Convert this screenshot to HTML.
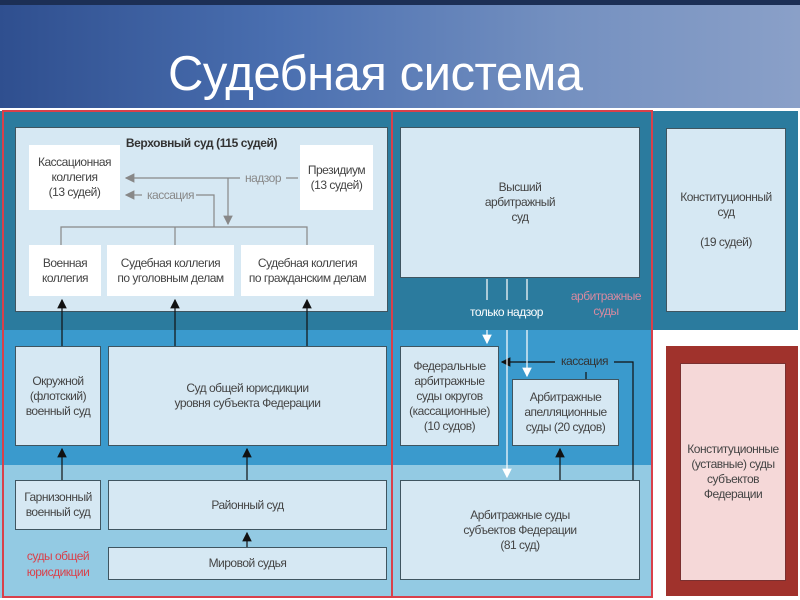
<!DOCTYPE html>
<html><head><meta charset="utf-8"><style>
*{margin:0;padding:0;box-sizing:border-box}
body{width:800px;height:600px;position:relative;overflow:hidden;background:#fff;font-family:"Liberation Sans",sans-serif}
.a{position:absolute}
.b{position:absolute;background:#d6e8f3;border:1px solid #3f5560;display:flex;align-items:center;justify-content:center;text-align:center;font-size:12px;letter-spacing:-0.5px;color:#444;line-height:15px}
.w{position:absolute;background:#fff;display:flex;align-items:center;justify-content:center;text-align:center;font-size:12px;letter-spacing:-0.5px;color:#444;line-height:15px}
</style></head><body>
<div class="a" style="left:0;top:0;width:800px;height:108px;background:linear-gradient(90deg,#2f4f8f 0%,#4a6fb0 35%,#7490c0 70%,#8aa0c8 100%)"></div>
<div class="a" style="left:0;top:0;width:800px;height:5px;background:#1c2f55"></div>
<div class="a" style="left:168px;top:46px;font-family:'Liberation Sans',sans-serif;font-size:49px;color:#fff;letter-spacing:-0.5px">Судебная система</div>
<div class="a" style="left:0;top:108px;width:800px;height:3px;background:#fff"></div>
<div class="a" style="left:0;top:111px;width:798px;height:219px;background:#2b7b9e"></div>
<div class="a" style="left:0;top:330px;width:652px;height:135px;background:#3a9acd"></div>
<div class="a" style="left:0;top:465px;width:652px;height:133px;background:#93cae3"></div>
<div class="a" style="left:2px;top:110px;width:651px;height:488px;border:2px solid #d9404a"></div>
<div class="a" style="left:391px;top:110px;width:2px;height:488px;background:#d9404a"></div>

<div class="b" style="left:15px;top:127px;width:373px;height:185px"></div>
<div class="a" style="left:15px;top:136px;width:373px;text-align:center;font-size:12px;letter-spacing:-0.4px;font-weight:bold;color:#333">Верховный суд (115 судей)</div>
<div class="w" style="left:29px;top:145px;width:91px;height:65px">Кассационная<br>коллегия<br>(13 судей)</div>
<div class="w" style="left:300px;top:145px;width:73px;height:65px">Президиум<br>(13 судей)</div>
<div class="w" style="left:29px;top:245px;width:72px;height:51px">Военная<br>коллегия</div>
<div class="w" style="left:107px;top:245px;width:127px;height:51px">Судебная коллегия<br>по уголовным делам</div>
<div class="w" style="left:241px;top:245px;width:133px;height:51px">Судебная коллегия<br>по гражданским делам</div>

<div class="b" style="left:15px;top:346px;width:86px;height:100px">Окружной<br>(флотский)<br>военный суд</div>
<div class="b" style="left:108px;top:346px;width:279px;height:100px">Суд общей юрисдикции<br>уровня субъекта Федерации</div>
<div class="b" style="left:15px;top:480px;width:86px;height:50px">Гарнизонный<br>военный суд</div>
<div class="b" style="left:108px;top:480px;width:279px;height:50px">Районный суд</div>
<div class="b" style="left:108px;top:547px;width:279px;height:33px">Мировой судья</div>
<div class="a" style="left:15px;top:548px;width:86px;text-align:center;font-size:12px;letter-spacing:-0.5px;line-height:16px;color:#d9404a">суды общей<br>юрисдикции</div>

<div class="b" style="left:400px;top:127px;width:240px;height:151px">Высший<br>арбитражный<br>суд</div>
<div class="a" style="left:470px;top:305px;font-size:12px;letter-spacing:-0.5px;color:#fff">только надзор</div>
<div class="a" style="left:568px;top:289px;width:76px;text-align:center;font-size:12px;letter-spacing:-0.5px;line-height:15px;color:#d98aa0">арбитражные<br>суды</div>
<div class="b" style="left:400px;top:346px;width:99px;height:100px">Федеральные<br>арбитражные<br>суды округов<br>(кассационные)<br>(10 судов)</div>
<div class="b" style="left:512px;top:379px;width:107px;height:67px">Арбитражные<br>апелляционные<br>суды (20 судов)</div>
<div class="a" style="left:561px;top:354px;font-size:12px;letter-spacing:-0.5px;color:#333">кассация</div>
<div class="b" style="left:400px;top:480px;width:240px;height:100px">Арбитражные суды<br>субъектов Федерации<br>(81 суд)</div>

<div class="b" style="left:666px;top:128px;width:120px;height:184px">Конституционный<br>суд<br><br>(19 судей)</div>
<div class="a" style="left:666px;top:346px;width:132px;height:250px;background:#a0322c"></div>
<div class="b" style="left:680px;top:363px;width:106px;height:218px;background:#f5d8d8;border-color:#7a3030">Конституционные<br>(уставные) суды<br>субъектов<br>Федерации</div>

<svg class="a" style="left:0;top:0" width="800" height="600">
<defs>
<marker id="k" markerWidth="8" markerHeight="8" refX="7" refY="4" orient="auto"><path d="M0,0L8,4L0,8z" fill="#111"/></marker>
<marker id="g" markerWidth="8" markerHeight="8" refX="7" refY="4" orient="auto"><path d="M0,0L8,4L0,8z" fill="#888"/></marker>
<marker id="wh" markerWidth="8" markerHeight="8" refX="7" refY="4" orient="auto"><path d="M0,0L8,4L0,8z" fill="#fff"/></marker>
</defs>
<g stroke="#888" stroke-width="1.2" fill="none">
<line x1="240" y1="178" x2="126" y2="178" marker-end="url(#g)"/>
<line x1="286" y1="178" x2="298" y2="178"/>
<line x1="142" y1="195" x2="126" y2="195" marker-end="url(#g)"/>
<polyline points="196,195 214,195 214,227"/>
<line x1="228" y1="178" x2="228" y2="224" marker-end="url(#g)"/>
<polyline points="61,245 61,227 307,227 307,245"/>
<line x1="175" y1="227" x2="175" y2="245"/>
</g>
<text x="245" y="182" font-size="12" letter-spacing="-0.5" fill="#888" font-family="Liberation Sans,sans-serif">надзор</text>
<text x="147" y="199" font-size="12" letter-spacing="-0.5" fill="#888" font-family="Liberation Sans,sans-serif">кассация</text>
<g stroke="#111" stroke-width="1.2">
<line x1="62" y1="346" x2="62" y2="300" marker-end="url(#k)"/>
<line x1="175" y1="346" x2="175" y2="300" marker-end="url(#k)"/>
<line x1="307" y1="346" x2="307" y2="300" marker-end="url(#k)"/>
<line x1="62" y1="480" x2="62" y2="449" marker-end="url(#k)"/>
<line x1="247" y1="480" x2="247" y2="449" marker-end="url(#k)"/>
<line x1="247" y1="547" x2="247" y2="533" marker-end="url(#k)"/>
<polyline fill="none" points="633,480 633,362 614,362"/>
<line x1="555" y1="362" x2="502" y2="362" marker-end="url(#k)"/>
<line x1="586" y1="372" x2="586" y2="379"/>
<line x1="560" y1="480" x2="560" y2="449" marker-end="url(#k)"/>
</g>
<g stroke="#fff" stroke-width="1.2">
<line x1="487" y1="279" x2="487" y2="300"/>
<line x1="507" y1="279" x2="507" y2="300"/>
<line x1="527" y1="279" x2="527" y2="300"/>
<line x1="487" y1="330" x2="487" y2="343" marker-end="url(#wh)"/>
<line x1="507" y1="330" x2="507" y2="477" marker-end="url(#wh)"/>
<line x1="527" y1="330" x2="527" y2="376" marker-end="url(#wh)"/>
</g>
</svg>
</body></html>
